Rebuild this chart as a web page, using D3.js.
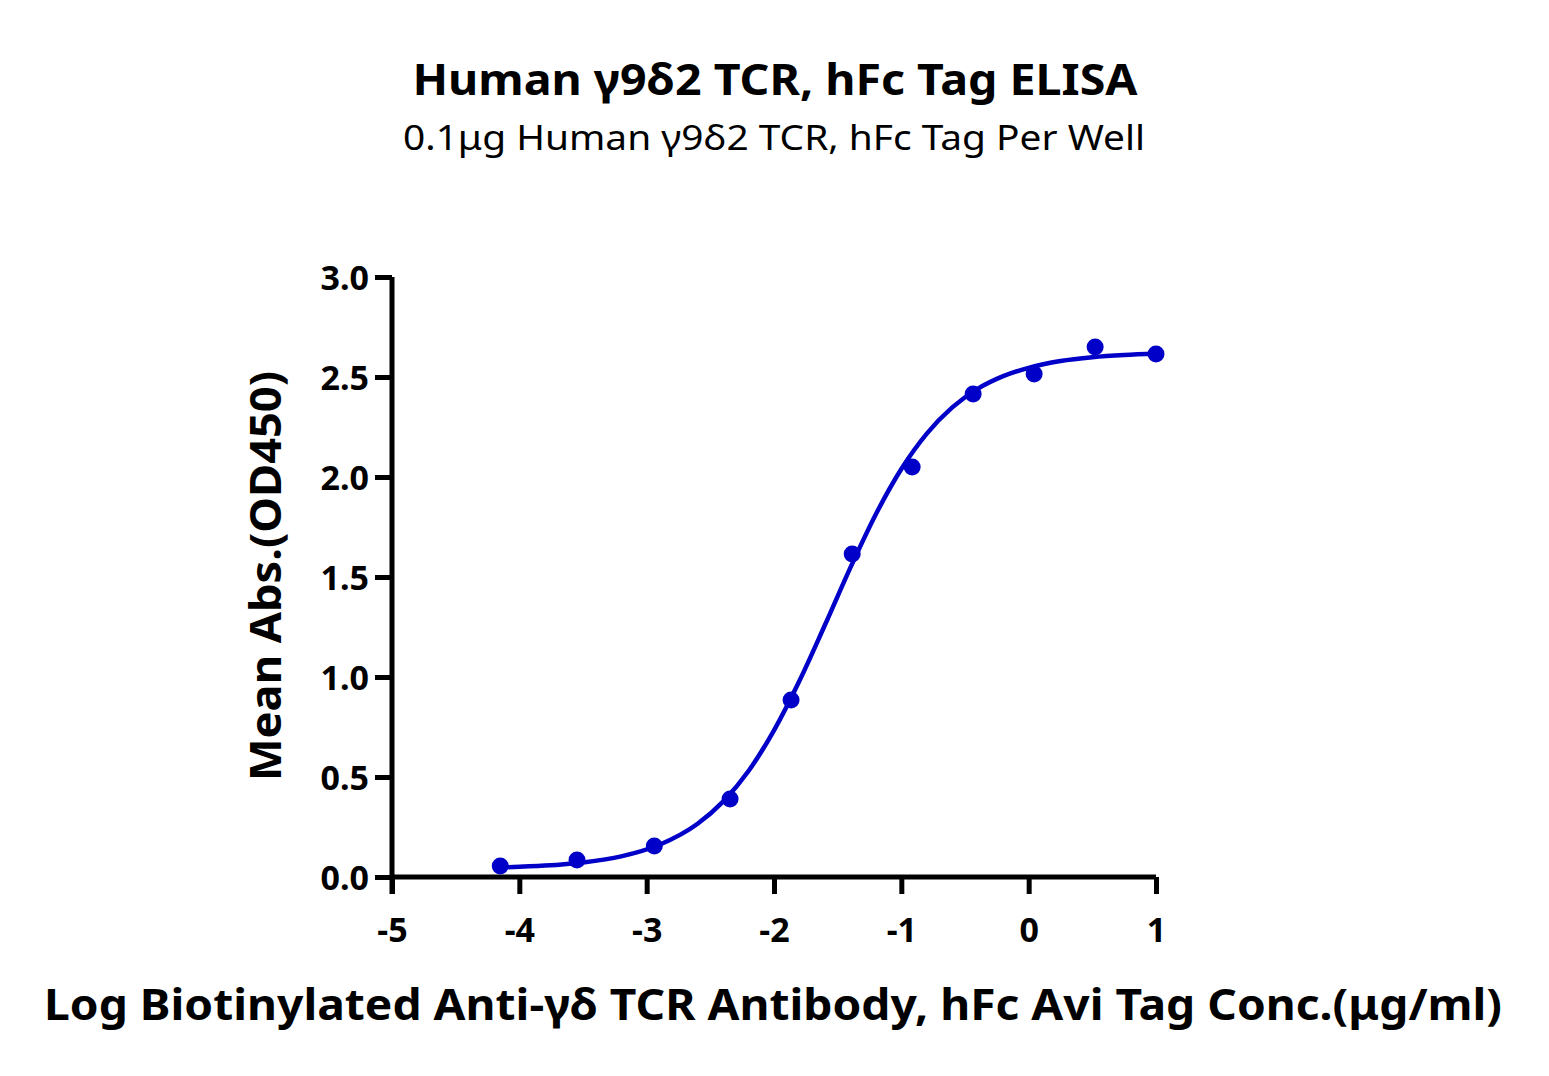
<!DOCTYPE html>
<html>
<head>
<meta charset="utf-8">
<script src="https://cdn.jsdelivr.net/npm/d3@7"></script>
<style>
  body { margin: 0; background: #fff; }
  svg text { font-family: "Noto Sans", "Open Sans", sans-serif; fill: #000; }
</style>
</head>
<body>
<svg id="chart"></svg>
<script>
'use strict';

// measured points (log conc, OD450)
var logConc = [-4.15, -3.547, -2.94, -2.345, -1.866, -1.386, -0.915, -0.436, 0.043, 0.522, 1.0];
var meanAbs = [0.055, 0.085, 0.155, 0.39, 0.885, 1.615, 2.05, 2.415, 2.515, 2.65, 2.615];

// fitted curve
var curveX = [-4.15, -3.8, -3.5, -3.2, -2.9, -2.6, -2.4, -2.2, -2.0, -1.8, -1.6, -1.4, -1.2, -1.0, -0.8, -0.6, -0.4, -0.2, 0, 0.25, 0.5, 0.75, 1.0];
var curveY = [0.048, 0.057, 0.073, 0.103, 0.161, 0.266, 0.377, 0.530, 0.733, 0.981, 1.260, 1.547, 1.814, 2.040, 2.217, 2.348, 2.441, 2.504, 2.546, 2.580, 2.599, 2.610, 2.616];

var xTicks = [-5, -4, -3, -2, -1, 0, 1];
var yTicks = [0, 0.5, 1.0, 1.5, 2.0, 2.5, 3.0];

var width = 1549;
var height = 1076;
var blue = '#0000c8';

var svg = d3.select('#chart')
  .attr('width', width)
  .attr('height', height);

var x = d3.scaleLinear().domain([-5, 1]).range([392, 1156]);
var y = d3.scaleLinear().domain([0, 3]).range([877, 277]);

// titles
svg.append('text')
  .attr('x', 775).attr('y', 95)
  .attr('text-anchor', 'middle')
  .attr('font-weight', 'bold')
  .attr('font-size', 43)
  .attr('textLength', 725).attr('lengthAdjust', 'spacingAndGlyphs')
  .text('Human γ9δ2 TCR, hFc Tag ELISA');

svg.append('text')
  .attr('x', 774).attr('y', 150)
  .attr('text-anchor', 'middle')
  .attr('font-size', 35)
  .attr('textLength', 742).attr('lengthAdjust', 'spacingAndGlyphs')
  .text('0.1μg Human γ9δ2 TCR, hFc Tag Per Well');

// axes (plain hyphen for negatives, as in the original)
var xAxis = svg.append('g')
  .attr('transform', 'translate(0,' + y(0) + ')')
  .call(d3.axisBottom(x).tickValues(xTicks).tickSize(17).tickPadding(24)
    .tickFormat(function(d) { return String(d); }));

var yAxis = svg.append('g')
  .attr('transform', 'translate(' + x(-5) + ',0)')
  .call(d3.axisLeft(y).tickValues(yTicks).tickSize(17).tickPadding(6)
    .tickFormat(function(d) { return d.toFixed(1); }));

[xAxis, yAxis].forEach(function(g) {
  g.select('.domain').attr('stroke', '#000').attr('stroke-width', 5);
  g.selectAll('.tick line').attr('stroke', '#000').attr('stroke-width', 5);
  g.selectAll('.tick text')
    .attr('fill', '#000')
    .attr('font-family', '"Noto Sans", sans-serif')
    .attr('font-weight', 'bold')
    .attr('font-size', 34);
});
xAxis.select('.domain').attr('d', 'M' + x(-5) + ',0H' + x(1));
yAxis.select('.domain').attr('d', 'M0,' + (y(0) + 17) + 'V' + y(3));
yAxis.selectAll('.tick text').attr('dy', '0.36em');

// fit line
var line = d3.line()
  .x(function(d) { return x(d[0]); })
  .y(function(d) { return y(d[1]); })
  .curve(d3.curveMonotoneX);

svg.append('path')
  .datum(d3.zip(curveX, curveY))
  .attr('fill', 'none')
  .attr('stroke', blue)
  .attr('stroke-width', 4.5)
  .attr('d', line);

svg.append('g')
  .selectAll('circle')
  .data(d3.zip(logConc, meanAbs))
  .join('circle')
  .attr('cx', function(d) { return x(d[0]); })
  .attr('cy', function(d) { return y(d[1]); })
  .attr('r', 8.5)
  .attr('fill', blue);

// axis titles
svg.append('text')
  .attr('x', 773).attr('y', 1020)
  .attr('text-anchor', 'middle')
  .attr('font-weight', 'bold')
  .attr('font-size', 43)
  .attr('textLength', 1458).attr('lengthAdjust', 'spacingAndGlyphs')
  .text('Log Biotinylated Anti-γδ TCR Antibody, hFc Avi Tag Conc.(μg/ml)');

svg.append('text')
  .attr('transform', 'translate(281,576) rotate(-90)')
  .attr('text-anchor', 'middle')
  .attr('font-weight', 'bold')
  .attr('font-size', 43)
  .attr('textLength', 410).attr('lengthAdjust', 'spacingAndGlyphs')
  .text('Mean Abs.(OD450)');
</script>
</body>
</html>
